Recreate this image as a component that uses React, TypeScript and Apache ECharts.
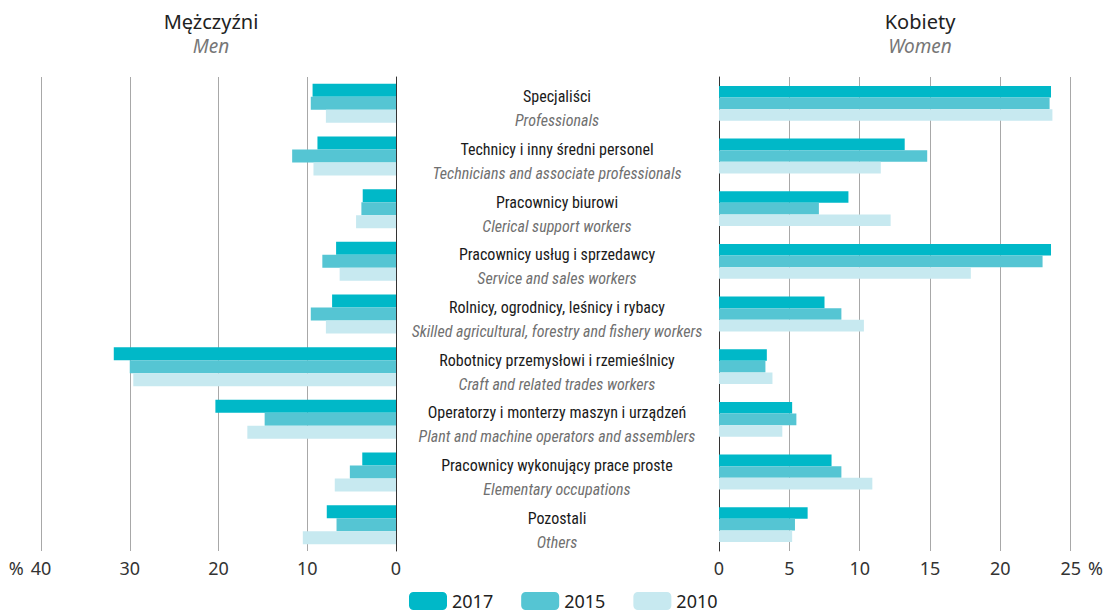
import React, { useEffect, useRef } from "react";
import * as echarts from "echarts";

const categoriesPL = [
  "Specjaliści",
  "Technicy i inny średni personel",
  "Pracownicy biurowi",
  "Pracownicy usług i sprzedawcy",
  "Rolnicy, ogrodnicy, leśnicy i rybacy",
  "Robotnicy przemysłowi i rzemieślnicy",
  "Operatorzy i monterzy maszyn i urządzeń",
  "Pracownicy wykonujący prace proste",
  "Pozostali",
];
const categoriesEN = [
  "Professionals",
  "Technicians and associate professionals",
  "Clerical support workers",
  "Service and sales workers",
  "Skilled agricultural, forestry and fishery workers",
  "Craft and related trades workers",
  "Plant and machine operators and assemblers",
  "Elementary occupations",
  "Others",
];
const years = ["2017", "2015", "2010"];
const men2017 = [9.4, 8.85, 3.75, 6.75, 7.2, 31.8, 20.35, 3.8, 7.8];
const men2015 = [9.6, 11.7, 3.9, 8.3, 9.6, 30.0, 14.8, 5.2, 6.7];
const men2010 = [7.9, 9.3, 4.5, 6.35, 7.9, 29.6, 16.75, 6.9, 10.5];
const women2017 = [23.6, 13.2, 9.2, 23.6, 7.5, 3.4, 5.2, 8.0, 6.3];
const women2015 = [23.5, 14.8, 7.1, 23.0, 8.7, 3.3, 5.5, 8.7, 5.4];
const women2010 = [23.7, 11.5, 12.2, 17.9, 10.3, 3.8, 4.5, 10.9, 5.2];
const menTicks = [0, 10, 20, 30, 40];
const womenTicks = [0, 5, 10, 15, 20, 25];

const colors = ["#00b8c8", "#55c5d3", "#c7e9f0"];
const SANS = "'Noto Sans', 'Open Sans', sans-serif";
const NARROW = "'Liberation Sans Narrow', 'Roboto Condensed', 'Noto Sans', sans-serif";

export default function App() {
  const ref = useRef<HTMLDivElement>(null);
  useEffect(() => {
    if (!ref.current) return;
    const chart = echarts.init(ref.current, null, { renderer: "svg" });
    const menData = [men2017, men2015, men2010];
    const womenData = [women2017, women2015, women2010];
    const tickRich = {
      l: { width: 22, align: "left", fontSize: 18, color: "#333", fontFamily: SANS },
      n: { fontSize: 18, color: "#333", fontFamily: SANS },
      r: { width: 22, align: "right", fontSize: 18, color: "#333", fontFamily: SANS },
    };
    const series: any[] = [];
    years.forEach((y, i) => {
      series.push({
        name: y,
        type: "bar",
        xAxisIndex: 0,
        yAxisIndex: 0,
        data: menData[i],
        barWidth: 13,
        barGap: "0%",
        itemStyle: { color: colors[i] },
      });
    });
    years.forEach((y, i) => {
      series.push({
        name: y,
        type: "bar",
        xAxisIndex: 1,
        yAxisIndex: 1,
        data: womenData[i],
        barWidth: 11.6,
        barGap: "0%",
        itemStyle: { color: colors[i] },
      });
    });
    chart.setOption({
      animation: false,
      title: [
        {
          text: "Mężczyźni",
          subtext: "Men",
          left: 206,
          textAlign: "center",
          top: 6,
          itemGap: 5,
          textStyle: { fontSize: 20, fontWeight: "normal", color: "#222", fontFamily: SANS },
          subtextStyle: { fontSize: 19, fontStyle: "italic", color: "#777", fontFamily: SANS },
        },
        {
          text: "Kobiety",
          subtext: "Women",
          left: 915,
          textAlign: "center",
          top: 6,
          itemGap: 5,
          textStyle: { fontSize: 20, fontWeight: "normal", color: "#222", fontFamily: SANS },
          subtextStyle: { fontSize: 19, fontStyle: "italic", color: "#777", fontFamily: SANS },
        },
      ],
      legend: {
        data: years,
        left: 404,
        top: 587,
        itemWidth: 38,
        itemHeight: 18,
        itemGap: 28,
        textStyle: { fontSize: 18, color: "#222", fontFamily: SANS },
      },
      grid: [
        { left: 41, right: 710, top: 77, bottom: 63 },
        { left: 719, right: 33, top: 77, bottom: 63 },
      ],
      xAxis: [
        {
          type: "value",
          gridIndex: 0,
          inverse: true,
          min: menTicks[0],
          max: menTicks[menTicks.length - 1],
          interval: 10,
          axisLine: { show: false },
          axisTick: { show: false },
          splitLine: { lineStyle: { color: "#a8a8a8", width: 1 } },
          axisLabel: {
            margin: 8,
            fontSize: 18,
            color: "#333",
            fontFamily: SANS,
            formatter: (v: number) => (v === 40 ? "{l|%}{n|40}{r|}" : "{n|" + v + "}"),
            rich: tickRich,
          },
        },
        {
          type: "value",
          gridIndex: 1,
          min: womenTicks[0],
          max: womenTicks[womenTicks.length - 1],
          interval: 5,
          axisLine: { show: false },
          axisTick: { show: false },
          splitLine: { lineStyle: { color: "#a8a8a8", width: 1 } },
          axisLabel: {
            margin: 8,
            fontSize: 18,
            color: "#333",
            fontFamily: SANS,
            formatter: (v: number) => (v === 25 ? "{l|}{n|25}{r|%}" : "{n|" + v + "}"),
            rich: tickRich,
          },
        },
      ],
      yAxis: [
        {
          type: "category",
          gridIndex: 0,
          inverse: true,
          position: "right",
          data: categoriesPL,
          axisLine: { show: true, lineStyle: { color: "#333", width: 1 } },
          axisTick: { show: false },
          axisLabel: { show: false },
        },
        {
          type: "category",
          gridIndex: 1,
          inverse: true,
          position: "left",
          data: categoriesPL,
          axisLine: { show: true, lineStyle: { color: "#333", width: 1 } },
          axisTick: { show: false },
          axisLabel: {
            show: true,
            margin: 162,
            align: "center",
            interval: 0,
            padding: [11, 0, 0, 0],
            formatter: (_v: string, idx: number) =>
              "{pl|" + categoriesPL[idx] + "}\n{en|" + categoriesEN[idx] + "}",
            rich: {
              pl: { fontSize: 16, lineHeight: 24, color: "#1a1a1a", fontFamily: NARROW, align: "center" },
              en: { fontSize: 16, lineHeight: 24, color: "#707070", fontStyle: "italic", fontFamily: NARROW, align: "center" },
            },
          },
        },
      ],
      series,
    });
    return () => chart.dispose();
  }, []);
  return (
    <div
      ref={ref}
      style={{ position: "absolute", left: 0, top: 0, width: 1106, height: 614 }}
    />
  );
}
